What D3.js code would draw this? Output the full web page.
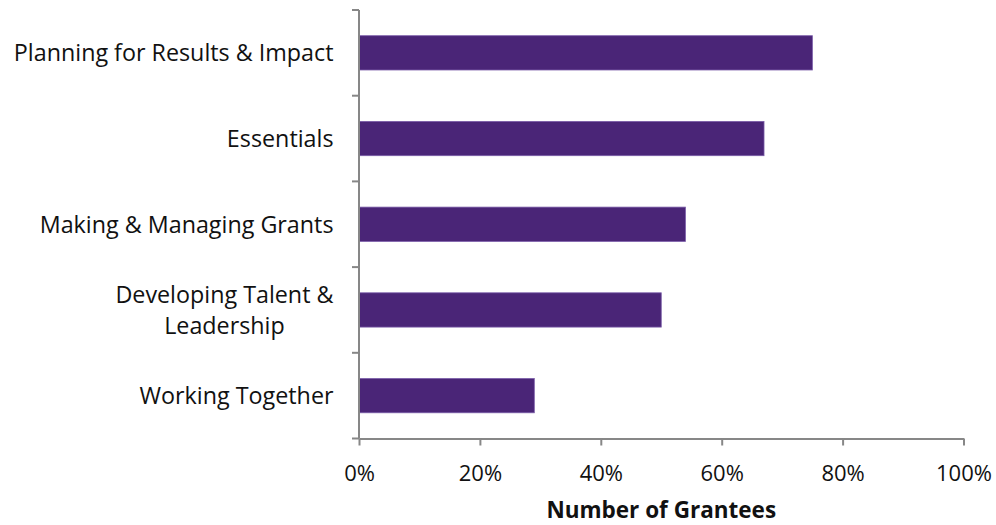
<!DOCTYPE html>
<html>
<head>
<meta charset="utf-8">
<script src="https://cdn.jsdelivr.net/npm/d3@7"></script>
<style>
  html, body { margin: 0; padding: 0; background: #ffffff; }
  svg { display: block; }
</style>
</head>
<body>
<svg id="chart" width="996" height="525"></svg>
<script>
// ---- data ----
const categories = [
  ["Planning for Results & Impact"],
  ["Essentials"],
  ["Making & Managing Grants"],
  ["Developing Talent &", "Leadership"],
  ["Working Together"]
];
const values = [0.75, 0.67, 0.54, 0.50, 0.29];
const xTickValues = [0, 0.2, 0.4, 0.6, 0.8, 1.0];
const xAxisTitle = "Number of Grantees";

// ---- layout ----
const svg = d3.select("#chart");
const plotLeft = 359, plotRight = 963.5, plotTop = 10, plotBottom = 438.5;
const fontFamily = "'Open Sans', sans-serif";
const axisColor = "#878787";
const barColor = "#4a2577";

const keys = categories.map(c => c.join(" "));
const x = d3.scaleLinear().domain([0, 1]).range([plotLeft, plotRight]);
const yTicks = d3.scaleBand().domain(keys).range([plotTop, plotBottom]).padding(0);
const y = d3.scaleBand().domain(keys).range([plotTop, plotBottom]).paddingInner(0.6).paddingOuter(0.3);

// bars
svg.append("g").selectAll("rect")
  .data(values)
  .join("rect")
  .attr("x", x(0))
  .attr("y", (d, i) => y(keys[i]))
  .attr("width", d => x(d) - x(0))
  .attr("height", y.bandwidth())
  .attr("fill", barColor)
  .attr("stroke", "#7a5ca8")
  .attr("stroke-width", 0.8);

// y axis line and ticks (ticks at band boundaries)
const gy = svg.append("g");
gy.append("line")
  .attr("x1", plotLeft).attr("x2", plotLeft)
  .attr("y1", plotTop).attr("y2", plotBottom)
  .attr("stroke", axisColor).attr("stroke-width", 2);
const boundaries = keys.map(k => yTicks(k)).concat([plotBottom]);
gy.selectAll("line.tk").data(boundaries).join("line")
  .attr("class", "tk")
  .attr("x1", plotLeft - 7).attr("x2", plotLeft)
  .attr("y1", d => d).attr("y2", d => d)
  .attr("stroke", axisColor).attr("stroke-width", 2);

// y labels
const labelRight = 333.5;
const ly = svg.append("g")
  .attr("font-family", fontFamily)
  .attr("font-size", 23.3)
  .attr("fill", "#111");
categories.forEach((lines, i) => {
  const cy = y(keys[i]) + y.bandwidth() / 2;
  const lh = 31;
  const t = ly.append("text").attr("text-anchor", "middle");
  lines.forEach((ln, j) => {
    t.append("tspan")
      .attr("y", cy + (j - (lines.length - 1) / 2) * lh)
      .attr("dy", "0.36em")
      .text(ln);
  });
  let maxW = 0;
  t.selectAll("tspan").each(function() { maxW = Math.max(maxW, this.getComputedTextLength()); });
  t.selectAll("tspan").attr("x", labelRight - maxW / 2);
});

// x axis
const xAxis = d3.axisBottom(x)
  .tickValues(xTickValues)
  .tickFormat(d3.format(".0%"))
  .tickSizeInner(7)
  .tickSizeOuter(0)
  .tickPadding(19.5);
const gx = svg.append("g")
  .attr("transform", `translate(0,${plotBottom})`)
  .call(xAxis);
gx.select(".domain").attr("stroke", axisColor).attr("stroke-width", 2);
gx.selectAll(".tick line").attr("stroke", axisColor).attr("stroke-width", 2);
gx.selectAll(".tick text")
  .attr("font-family", fontFamily)
  .attr("font-size", 22)
  .attr("fill", "#111");

// x axis title
svg.append("text")
  .attr("x", (plotLeft + plotRight) / 2)
  .attr("y", 518)
  .attr("text-anchor", "middle")
  .attr("font-family", fontFamily)
  .attr("font-weight", "bold")
  .attr("font-size", 22.5)
  .attr("fill", "#111")
  .text(xAxisTitle);
</script>
</body>
</html>
